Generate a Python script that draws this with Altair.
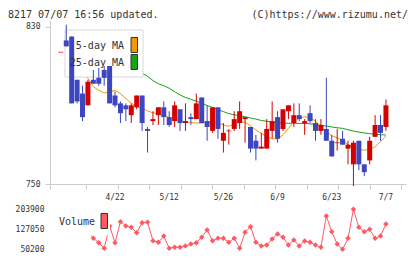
import altair as alt
import pandas as pd

# Daily candles for 8217, one row per trading day (day 0 = 4/8, day 60 = 7/7), prices in yen
opens = [817, 823, 825, 803, 796, 790, 803, 804, 808, 810, 795, 791, 790, 785, 789, 795,
         778, 782, 785, 789, 784, 782, 788, 781, 784, 783, 794, 782, 777, 789, 772, 777,
         778, 781, 783, 779, 772, 768, 768, 777, 784, 778, 787, 781, 785, 781, 786, 781,
         777, 778, 772, 771, 773, 768, 760, 772, 760, 762, 774, 780, 779]
highs = [817, 831, 825, 803, 800, 803, 808, 809, 810, 810, 797, 792, 791, 791, 795, 795,
         779, 787, 789, 792, 787, 792, 788, 791, 786, 796, 794, 790, 789, 789, 781, 778,
         787, 792, 784, 779, 775, 776, 783, 792, 787, 788, 790, 791, 791, 783, 790, 783,
         783, 804, 775, 778, 777, 772, 772, 772, 760, 774, 785, 785, 793]
lows = [817, 820, 791, 791, 782, 790, 801, 800, 800, 791, 789, 781, 782, 781, 788, 777,
        766, 780, 780, 780, 779, 779, 777, 777, 780, 783, 781, 772, 776, 773, 766, 770,
        777, 778, 771, 766, 762, 768, 768, 773, 771, 777, 783, 779, 782, 775, 781, 772,
        775, 772, 764, 767, 770, 760, 749, 757, 754, 760, 774, 772, 777]
closes = [817, 820, 791, 792, 784, 802, 801, 801, 804, 791, 790, 786, 788, 790, 795, 781,
          777, 783, 789, 784, 780, 790, 781, 782, 783, 791, 781, 779, 789, 778, 776, 777,
          783, 787, 784, 768, 768, 769, 778, 782, 773, 788, 790, 785, 783, 782, 782, 777,
          780, 772, 764, 771, 770, 770, 771, 760, 756, 772, 780, 776, 790]

# Moving averages as plotted (no value on the first day)
ma5 = [None, 816.3, 813.0, 810.0, 807.5, 803.7, 799.5, 797.6, 796.3, 797.0, 797.6, 796.0,
       793.5, 791.0, 789.5, 788.5, 787.2, 786.2, 785.6, 784.8, 783.8, 783.0, 782.2, 781.6,
       781.3, 781.0, 781.0, 781.3, 781.6, 781.0, 780.0, 779.3, 780.5, 781.5, 781.5, 779.5,
       777.5, 775.8, 774.0, 773.0, 772.9, 775.0, 778.3, 781.5, 783.6, 784.2, 783.8, 782.0,
       779.0, 776.5, 774.5, 773.5, 772.0, 770.0, 768.5, 767.6, 767.2, 767.4, 769.0, 771.5,
       774.4]
ma25 = [None, 824.6, 823.8, 822.1, 820.9, 819.6, 818.6, 817.2, 816.1, 814.5, 813.4, 811.6,
        810.2, 809.1, 807.4, 806.3, 804.8, 802.6, 801.0, 800.0, 798.7, 796.9, 795.3, 794.0,
        793.1, 792.1, 791.1, 789.9, 788.9, 787.8, 786.8, 785.8, 785.2, 784.8, 784.2, 783.6,
        783.0, 782.3, 781.9, 781.5, 781.2, 781.0, 780.9, 780.9, 780.8, 780.8, 780.6, 780.3,
        779.9, 779.5, 779.0, 778.6, 778.3, 777.6, 776.9, 776.4, 776.0, 775.6, 775.3, 775.1,
        774.9]

volumes = [170000, 188000, 196000, 158000, 142000, 118000, 92500, 75600, 54000, 139700,
           75600, 156300, 139700, 134700, 114000, 152400, 153900, 83200, 77100, 101300,
           54000, 57900, 57900, 62900, 70600, 75600, 96300, 124400, 83200, 92500, 92500,
           77100, 92500, 54000, 115500, 137000, 77100, 62900, 66700, 89800, 109000, 96300,
           66700, 85900, 62900, 82100, 77100, 66700, 57900, 178200, 117800, 70600, 50200,
           92500, 203900, 134700, 117800, 127050, 92500, 101300, 147400]

date_labels = ["4/22", "5/12", "5/26", "6/9", "6/23", "7/7"]
date_days = [10, 20, 30, 40, 50, 60]
price_ticks = [750, 830]
volume_ticks = [50200, 127050, 203900]

RED = "#d40000"
BLUE = "#3c46be"
ORANGE = "#f39800"
GREEN = "#16a316"
VOLC = "#ff5a64"
INK = "#333333"
AXIS = "#cccccc"
FONT = "DejaVu Sans Mono"

df = pd.DataFrame({
    "day": list(range(len(closes))),
    "open": opens, "high": highs, "low": lows, "close": closes,
    "ma5": ma5, "ma25": ma25, "volume": volumes,
})
df["side"] = ["up" if c >= o else "down" for o, c in zip(opens, closes)]
dates = pd.DataFrame({"day": date_days, "label": date_labels})
one = pd.DataFrame({"k": [0]})

# x: trading-day index; the axis carries 11 evenly spaced ticks
x_lo, x_hi = -1.08, 62.78
step = (x_hi - x_lo) / 11
grid_ticks = [x_lo + step * k for k in range(1, 12)]
xs = alt.Scale(domain=[x_lo, x_hi], range=[50, 406], nice=False, zero=False)
xa = alt.Axis(orient="bottom", offset=-75, values=grid_ticks, labels=False,
              tickSize=5, title=None, grid=False)
X = alt.X("day:Q", scale=xs, axis=xa)

ys = alt.Scale(domain=[747.46, 833.4], range=[189, 20], nice=False, zero=False)
ya = alt.Axis(orient="left", offset=-50, values=price_ticks, format="d",
              tickSize=5, labelPadding=5, title=None, grid=False)

vs = alt.Scale(domain=[50200, 203900], range=[249.3, 209.3], nice=False, zero=False)
va = alt.Axis(orient="left", offset=-50, values=volume_ticks, format="d",
              domain=False, ticks=False, labelPadding=6, title=None, grid=False)

side_color = alt.Color("side:N", scale=alt.Scale(domain=["up", "down"], range=[RED, BLUE]),
                       legend=None)

base = alt.Chart(df)

ma25_line = base.mark_line(color=GREEN, strokeWidth=1).encode(
    x=X, y=alt.Y("ma25:Q", scale=ys, axis=ya))
ma5_line = base.mark_line(color=ORANGE, strokeWidth=1).encode(
    x=X, y=alt.Y("ma5:Q", scale=ys, axis=ya))

legend_box = alt.Chart(one).mark_rect(fill="white", stroke="#d8d8d8", strokeWidth=1).encode(
    x=alt.value(65), x2=alt.value(143), y=alt.value(30), y2=alt.value(77))

wicks = base.mark_rule(strokeWidth=1).encode(
    x=X, y=alt.Y("low:Q", scale=ys, axis=ya), y2="high:Q", color=side_color)
bodies = base.mark_bar(size=5).encode(
    x=X, y=alt.Y("open:Q", scale=ys, axis=ya), y2="close:Q", color=side_color)
doji = base.transform_filter("datum.open == datum.close").mark_tick(
    orient="horizontal", size=5, thickness=1).encode(
    x=X, y=alt.Y("close:Q", scale=ys, axis=ya), color=side_color)


def label(text, x, y, align="left", size=10):
    return alt.Chart(one).mark_text(
        text=text, font=FONT, fontSize=size, color=INK, align=align, baseline="middle"
    ).encode(x=alt.value(x), y=alt.value(y))


def swatch(color, x0, x1, y0, y1):
    return alt.Chart(one).mark_rect(fill=color, stroke="#333333", strokeWidth=1).encode(
        x=alt.value(x0), x2=alt.value(x1), y=alt.value(y0), y2=alt.value(y1))


main = alt.layer(
    ma25_line, ma5_line, legend_box, wicks, bodies, doji,
    label("5-day MA", 124, 46, align="right"),
    label("25-day MA", 124, 62.5, align="right"),
    swatch(ORANGE, 131, 137.5, 37.5, 52.5),
    swatch(GREEN, 131, 137.5, 54.5, 69.5),
)

vol_line = base.mark_line(color=VOLC, strokeWidth=1).encode(
    x=X, y=alt.Y("volume:Q", scale=vs, axis=va))
vol_pts = base.mark_point(shape="diamond", filled=True, size=30, opacity=1, color=VOLC).encode(
    x=X, y=alt.Y("volume:Q", scale=vs, axis=va))
vol_box = alt.Chart(one).mark_rect(fill="white").encode(
    x=alt.value(52), x2=alt.value(110), y=alt.value(205), y2=alt.value(235.5))

volume = alt.layer(
    vol_line, vol_pts, vol_box,
    label("Volume", 59, 221.5),
    swatch(VOLC, 101, 107.5, 213.5, 228.5),
)

date_text = alt.Chart(dates).mark_text(
    font=FONT, fontSize=8, color=INK, align="center", baseline="middle"
).encode(x=X, y=alt.value(197.5), text="label:N")

header = alt.layer(
    label("8217 07/07 16:56 updated.", 8, 14.5),
    label("(C)https://www.rizumu.net/", 408, 14.5, align="right"),
    date_text,
)

chart = alt.layer(main, volume, header).resolve_scale(y="independent").properties(
    width=420, height=259, padding=0, background="white",
    autosize=alt.AutoSizeParams(type="none"),
).configure_view(strokeWidth=0).configure_axis(
    labelFont=FONT, labelFontSize=8, labelColor=INK, domainColor=AXIS, tickColor=AXIS,
)

chart.save("out.html", embed_options={"renderer": "svg", "actions": False})
